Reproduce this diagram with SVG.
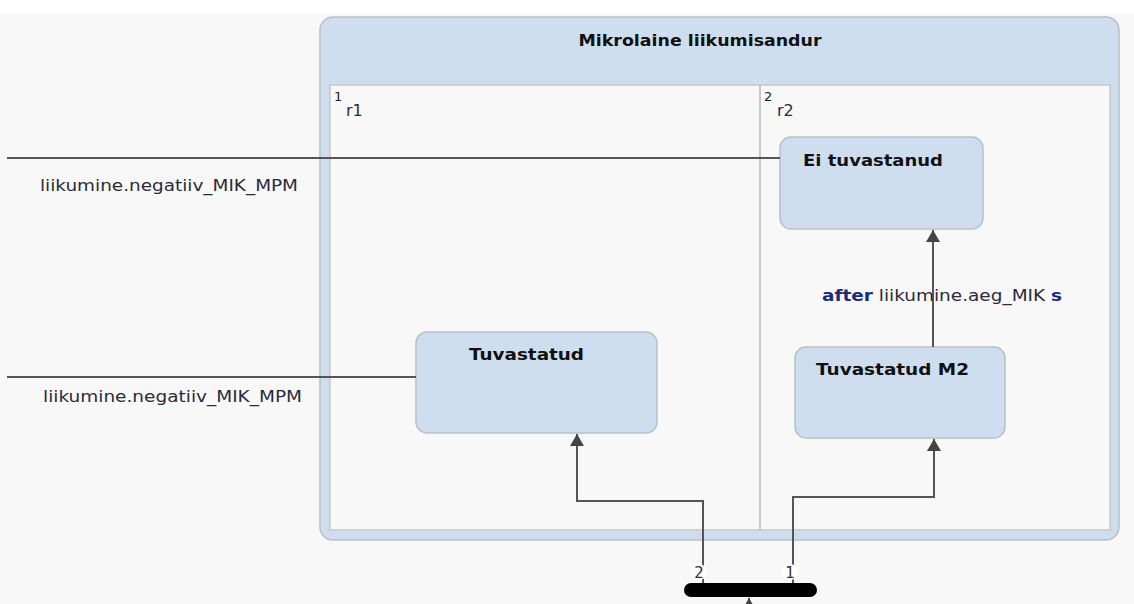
<svg xmlns="http://www.w3.org/2000/svg" width="1134" height="604" viewBox="0 0 1134 604">
  <style>
    .lbl { font-family: "DejaVu Sans", Verdana, sans-serif; font-size: 16px; fill: #2b2b3a; }
    .title { font-family: "DejaVu Sans", Verdana, sans-serif; font-size: 16px; font-weight: bold; fill: #111; }
    .kw { font-weight: bold; fill: #1d2a7a; }
    .state { fill: #cfdeef; stroke: #b9c0c8; stroke-width: 1.5; }
    .edge { fill: none; stroke: #555; stroke-width: 2; }
    .num { font-family: "DejaVu Sans", Verdana, sans-serif; font-size: 13px; fill: #222; }
    .port { font-family: "DejaVu Sans", Verdana, sans-serif; font-size: 15px; fill: #333; }
  </style>
  <defs>
    <marker id="arrow" viewBox="0 0 12 14" refX="12" refY="7" markerWidth="12" markerHeight="14" markerUnits="userSpaceOnUse" orient="auto">
      <path d="M0,0 L12,7 L0,14 Z" fill="#444"/>
    </marker>
  </defs>

  <!-- canvas -->
  <rect x="0" y="0" width="1134" height="604" fill="#f8f8f8"/>
  <rect x="0" y="0" width="1134" height="14" fill="#ffffff"/>

  <!-- composite state with two orthogonal regions -->
  <g id="mikrolaine">
    <rect x="320" y="17" width="799" height="523" rx="13" class="state"/>
    <rect x="330" y="85" width="780" height="445" fill="#f8f8f8" stroke="#c8c8c8" stroke-width="1.5"/>
    <line x1="760" y1="85" x2="760" y2="530" stroke="#b8b8b8" stroke-width="1.5"/>
    <text x="700" y="46" text-anchor="middle" class="title" textLength="243" lengthAdjust="spacingAndGlyphs">Mikrolaine liikumisandur</text>
  </g>

  <g id="region-r1">
    <text x="334" y="101" class="num">1</text>
    <text x="346" y="116" class="lbl">r1</text>
  </g>
  <g id="region-r2">
    <text x="764" y="101" class="num">2</text>
    <text x="777" y="116" class="lbl">r2</text>
  </g>

  <g id="ei-tuvastanud">
    <rect x="780" y="137" width="203" height="92" rx="11" class="state"/>
    <text x="803" y="166" class="title" textLength="140" lengthAdjust="spacingAndGlyphs">Ei tuvastanud</text>
  </g>

  <g id="tuvastatud">
    <rect x="416" y="332" width="241" height="101" rx="11" class="state"/>
    <text x="469" y="360" class="title" textLength="115" lengthAdjust="spacingAndGlyphs">Tuvastatud</text>
  </g>

  <g id="tuvastatud-m2">
    <rect x="795" y="347" width="210" height="91" rx="11" class="state"/>
    <text x="816" y="375" class="title" textLength="153" lengthAdjust="spacingAndGlyphs">Tuvastatud M2</text>
  </g>

  <g id="fork">
    <rect x="684" y="583" width="133" height="14" rx="7" fill="#000"/>
  </g>

  <g id="connectors">
    <!-- external transitions entering from the left -->
    <line x1="7" y1="158" x2="780" y2="158" class="edge"/>
    <text x="40" y="191" class="lbl" textLength="258" lengthAdjust="spacingAndGlyphs">liikumine.negatiiv_MIK_MPM</text>

    <line x1="7" y1="377" x2="416" y2="377" class="edge"/>
    <text x="43" y="402" class="lbl" textLength="259" lengthAdjust="spacingAndGlyphs">liikumine.negatiiv_MIK_MPM</text>

    <!-- timed transition -->
    <line x1="933" y1="347" x2="933" y2="230" class="edge" marker-end="url(#arrow)"/>
    <text x="822" y="301" class="lbl" textLength="240" lengthAdjust="spacingAndGlyphs"><tspan class="kw">after</tspan> liikumine.aeg_MIK <tspan class="kw">s</tspan></text>

    <!-- fork outgoing -->
    <polyline points="703,583 703,501 577,501 577,434" class="edge" marker-end="url(#arrow)"/>
    <polyline points="793,583 793,497 934,497 934,439" class="edge" marker-end="url(#arrow)"/>
    <circle cx="699" cy="572" r="8" fill="#fff"/>
    <text x="699" y="578" text-anchor="middle" class="port">2</text>
    <circle cx="790" cy="572" r="8" fill="#fff"/>
    <text x="790" y="578" text-anchor="middle" class="port">1</text>

    <!-- fork incoming -->
    <line x1="749" y1="612" x2="749" y2="598" class="edge" marker-end="url(#arrow)"/>
  </g>
</svg>
